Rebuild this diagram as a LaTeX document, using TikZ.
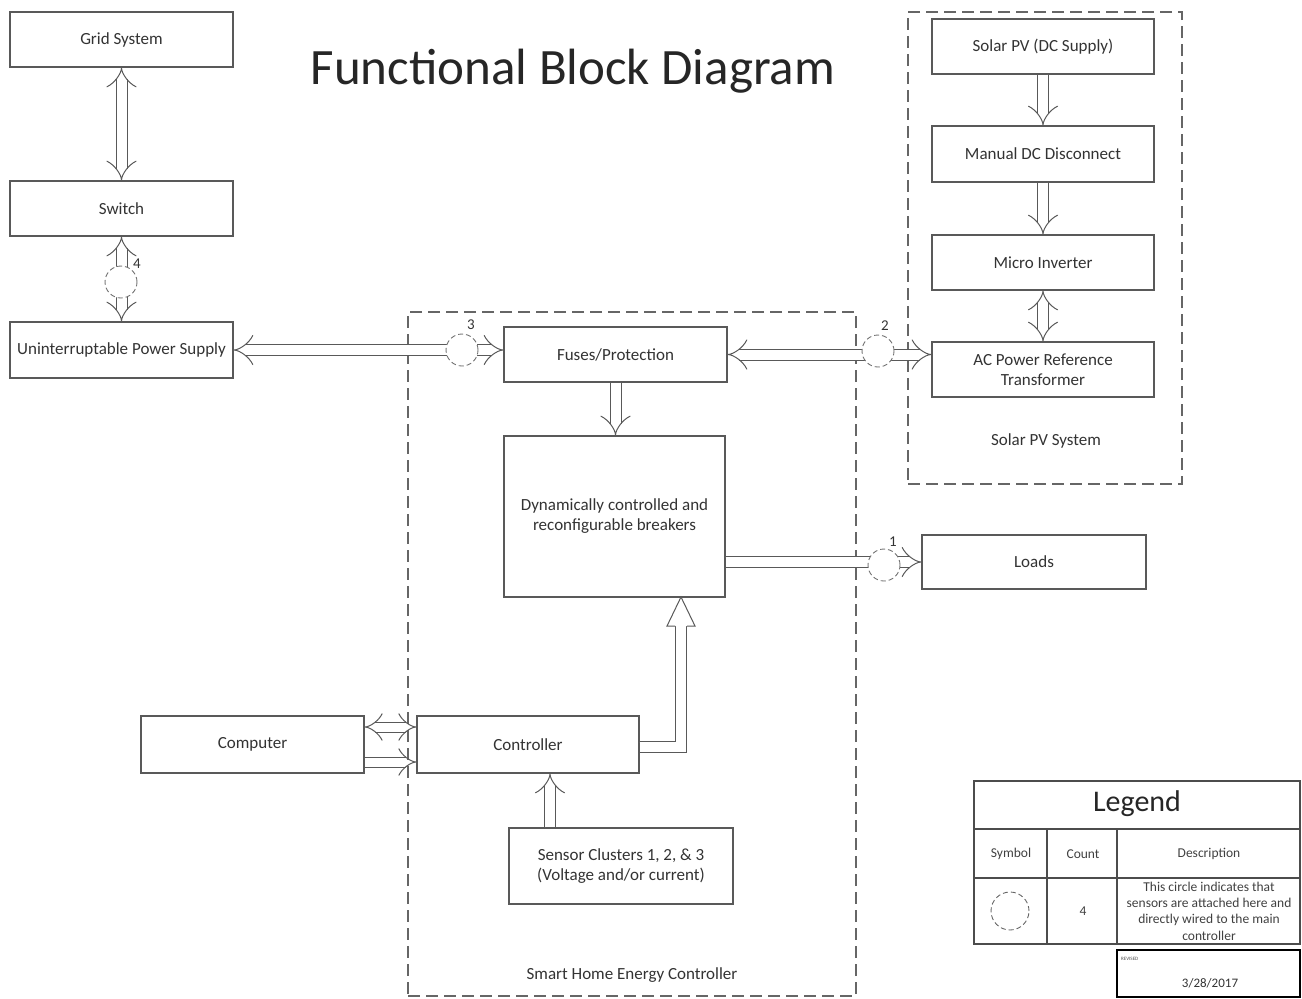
\documentclass[tikz,border=0pt]{standalone}
\usepackage{fontspec}
\setmainfont{Carlito}
\usetikzlibrary{arrows.meta,calc}
\begin{document}
\begin{tikzpicture}[x=1pt,y=-1pt,
  box/.style={draw=black!65, line width=1.2pt, fill=white, inner sep=2pt,
    font=\fontsize{17}{20}\selectfont, text=black!80, align=center},
  container/.style={draw=black!60, line width=1.1pt, dash pattern=on 12pt off 6pt, inner sep=0pt},
  pipe/.style={draw=black!65, line width=1pt, double=white, double distance=10pt},
  tipi/.tip={Implies[scale=0.7]},
  sens/.style={circle, draw=black!55, dash pattern=on 5pt off 3pt, fill=white, minimum size=32pt, inner sep=0pt, line width=0.9pt},
  num/.style={font=\fontsize{15}{17}\selectfont, text=black!80, inner sep=0pt},
  lbl/.style={font=\fontsize{17}{20}\selectfont, text=black!80},
  small/.style={font=\fontsize{13.5}{16}\selectfont, text=black!75, align=center}
]
\useasboundingbox (0,0) rectangle (1302,999);

% containers
\node[container, minimum width=448pt, minimum height=684pt] (shec) at (632,654) {};
\node[container, minimum width=274pt, minimum height=472pt] (pvsys) at (1045,248) {};
\node[lbl] (shecl) at (632,975) {Smart Home Energy Controller};
\node[lbl] (pvsysl) at (1046,441) {Solar PV System};

% title
\node[font=\fontsize{51}{56}\selectfont, text=black!85] (title) at (573,71) {Functional Block Diagram};

% boxes
\node[box, minimum width=223pt, minimum height=55pt] (grid) at (121.5,39.5) {Grid System};
\node[box, minimum width=223pt, minimum height=55pt] (switch) at (121.5,208.5) {Switch};
\node[box, minimum width=223pt, minimum height=56pt] (ups) at (121.5,350) {Uninterruptable Power Supply};
\node[box, minimum width=222pt, minimum height=55pt] (solar) at (1043,46.5) {Solar PV (DC Supply)};
\node[box, minimum width=222pt, minimum height=56pt] (mdc) at (1043,154) {Manual DC Disconnect};
\node[box, minimum width=222pt, minimum height=55pt] (micro) at (1043,262.5) {Micro Inverter};
\node[box, minimum width=222pt, minimum height=55pt] (acp) at (1043,369.5) {AC Power Reference\\Transformer};
\node[box, minimum width=223pt, minimum height=55pt] (fuses) at (615.5,354.5) {Fuses/Protection};
\node[box, minimum width=221pt, minimum height=161pt] (dyn) at (614.5,516.5) {Dynamically controlled and\\reconfigurable breakers};
\node[box, minimum width=224pt, minimum height=54pt] (loads) at (1034,562) {Loads};
\node[box, minimum width=222pt, minimum height=57pt] (ctrl) at (528,744.5) {Controller};
\node[box, minimum width=223pt, minimum height=57pt] (comp) at (252.5,744.5) {Computer};
\node[box, minimum width=224pt, minimum height=76pt] (sensor) at (621,866) {Sensor Clusters 1, 2, \& 3\\(Voltage and/or current)};

% pipes
\draw[pipe, tipi-tipi] (grid.south) -- (switch.north);
\draw[pipe, tipi-tipi] (switch.south) -- (ups.north);
\draw[pipe, tipi-tipi] (ups.east) -- (ups.east -| fuses.west);
\draw[pipe, tipi-tipi] (fuses.east) -- (fuses.east -| acp.west);
\draw[pipe, -tipi] (fuses.south) -- (fuses.south |- dyn.north);
\draw[pipe, -tipi] (solar.south) -- (mdc.north);
\draw[pipe, -tipi] (mdc.south) -- (micro.north);
\draw[pipe, tipi-tipi] (micro.south) -- (acp.north);
\draw[pipe, -tipi] (dyn.east |- loads.west) -- (loads.west);
\draw[pipe, tipi-tipi, double distance=9pt] ($(comp.east)+(0,-17.5)$) -- ($(ctrl.west)+(0,-17.5)$);
\draw[pipe, -tipi, double distance=9pt] ($(comp.east)+(0,17.5)$) -- ($(ctrl.west)+(0,17.5)$);
\coordinate (sx) at (550,0);
\draw[pipe, -tipi] (sensor.north -| sx) -- (ctrl.south -| sx);

% controller to breakers (big head)
\coordinate (bx) at (681,626);
\coordinate (btip) at (681,597);
\draw[pipe] ($(ctrl.east)+(0,2.5)$) -| (bx);
\draw[draw=black!65, line width=1pt, fill=white, line join=miter]
  ($(bx)+(-6,0)$) -- ($(bx)+(-14,0)$) -- (btip) -- ($(bx)+(14,0)$) -- ($(bx)+(6,0)$);

% sensor circles
\node[sens] (s4) at (121,282) {};
\node[num] (s4l) at (137,264) {4};
\node[sens] (s3) at (462,350) {};
\node[num] (s3l) at (471,325) {3};
\node[sens] (s2) at (878,351) {};
\node[num] (s2l) at (885,326) {2};
\node[sens] (s1) at (884,565) {};
\node[num] (s1l) at (893,542) {1};

% legend
\draw[draw=black!70, line width=1.2pt] (974,781) rectangle (1300,944);
\draw[draw=black!70, line width=1.2pt] (974,829) -- (1300,829) (974,878) -- (1300,878)
  (1047,829) -- (1047,944) (1117,829) -- (1117,944);
\node[font=\fontsize{30}{34}\selectfont, text=black!85] (legt) at (1137,804) {Legend};
\node[small] (lsym) at (1011,854) {Symbol};
\node[small] (lcnt) at (1083,854) {Count};
\node[small] (ldes) at (1209,854) {Description};
\node[sens, minimum size=38pt, draw=black!60] (lcirc) at (1010,911) {};
\node[small] (lfour) at (1083,911) {4};
\node[font=\fontsize{13.5}{16.3}\selectfont, text=black!75, align=center] (ltext) at (1209,911)
  {This circle indicates that\\sensors are attached here and\\directly wired to the main\\controller};

% revised box
\draw[draw=black, line width=2.5pt] (1117,950) rectangle (1300,997);
\node[font=\fontsize{5}{6}\selectfont, text=black!70, anchor=west, inner sep=0pt] (rev) at (1121,959) {REVISED};
\node[font=\fontsize{13}{15}\selectfont, text=black!80] (date) at (1210,983) {3/28/2017};
\end{tikzpicture}
\end{document}
